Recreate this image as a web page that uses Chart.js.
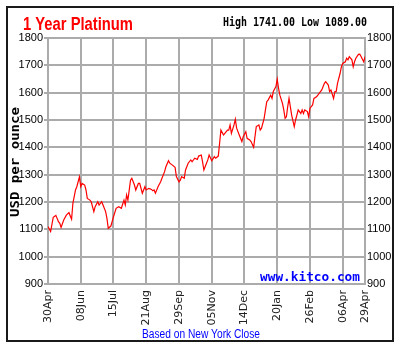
<!DOCTYPE html>
<html>
<head>
<meta charset="utf-8">
<script src="https://cdn.jsdelivr.net/npm/chart.js@4"></script>
<style>
html,body{margin:0;padding:0;background:#fff;}
canvas{display:block;}
</style>
</head>
<body>
<canvas id="c" width="400" height="352"></canvas>
<script>
// trading-day index (0 = 30Apr) and closing price
const tradingDay = [0,2,4,6,8,9,10,12,14,16,18,19,21,22,24,25,26,28,29,30,32,33,35,36,38,39,41,42,44,45,46,48,50,52,54,56,58,59,60,61,63,64,66,67,69,70,72,74,75,77,79,80,81,82,84,86,87,89,90,92,93,95,97,98,100,101,102,104,105,107,109,110,112,114,115,117,118,119,121,122,123,125,127,128,130,131,132,134,135,137,138,139,140,142,143,144,146,148,149,151,152,154,155,157,158,159,161,162,163,165,166,167,168,170,171,172,174,175,176,177,179,180,181,182,183,184,185,186,188,189,190,191,193,194,195,196,198,199,200,202,203,205,206,208,209,211,212,214,215,216,218,219,220,221,223,224,225,227,228,229,230,232,233,234,235,237,238,239,241,242];
const price = [1110,1092,1144,1151,1128,1122,1107,1134,1152,1161,1137,1195,1244,1256,1292,1256,1268,1262,1244,1213,1207,1201,1165,1183,1201,1189,1201,1189,1165,1140,1104,1112,1146,1177,1183,1177,1207,1189,1226,1207,1280,1287,1262,1244,1268,1268,1232,1256,1244,1250,1246,1241,1244,1232,1256,1274,1287,1311,1329,1351,1342,1335,1327,1293,1274,1280,1293,1287,1317,1342,1354,1347,1360,1356,1368,1372,1347,1317,1342,1354,1372,1351,1366,1360,1368,1415,1463,1445,1451,1463,1463,1482,1451,1482,1503,1470,1445,1421,1439,1457,1433,1427,1421,1400,1439,1476,1482,1463,1470,1506,1537,1567,1573,1591,1579,1604,1622,1649,1616,1591,1561,1537,1506,1512,1549,1579,1549,1518,1476,1500,1518,1537,1524,1537,1524,1537,1531,1512,1543,1555,1579,1585,1591,1604,1610,1634,1640,1628,1604,1610,1579,1604,1604,1634,1671,1695,1707,1713,1726,1720,1732,1720,1695,1713,1726,1740,1741,1732,1713,1732];
// x-axis date labels and the trading-day index where each sits
const dateLabels = ['30Apr','08Jun','15Jul','21Aug','29Sep','05Nov','14Dec','20Jan','26Feb','06Apr','29Apr'];
const labelDays = [0,25,50,75,100,125,150,175,200,225,242];
const yMin = 900, yMax = 1800, yStep = 100;
const titleText = '1 Year Platinum';
const rangeText = 'High 1741.00 Low 1089.00';
const yTitle = 'USD per ounce';
const siteText = 'www.kitco.com';
const noteText = 'Based on New York Close';

const points = tradingDay.map((d,i)=>({x:d,y:price[i]}));
const gridColor = '#ababab';
const tickFont = {family:"'Liberation Sans Narrow','Liberation Sans',Arial,sans-serif", size:11};

function fitText(ctx, text, x, y, w, font, color){
  ctx.save();
  ctx.font = font;
  ctx.fillStyle = color;
  ctx.textBaseline = 'alphabetic';
  ctx.textAlign = 'left';
  const m = ctx.measureText(text).width;
  const sx = w / m;
  ctx.translate(x, y);
  ctx.scale(sx, 1);
  ctx.fillText(text, 0, 0);
  ctx.restore();
}

const decor = {
  id:'decor',
  beforeDraw(chart){
    const ctx = chart.ctx;
    ctx.save();
    ctx.fillStyle = '#fff';
    ctx.fillRect(0,0,400,352);
    ctx.strokeStyle = '#1a1a1a';
    ctx.lineWidth = 2;
    ctx.strokeRect(7,7,386,334);
    ctx.restore();
  },
  afterDraw(chart){
    const ctx = chart.ctx;
    fitText(ctx, titleText, 23, 30, 110, "bold 18px 'Liberation Sans',Arial,sans-serif", '#ff0000');
    fitText(ctx, rangeText, 223, 26, 144, "bold 13px 'DejaVu Sans Mono','Liberation Mono',monospace", '#000');
    fitText(ctx, siteText, 260, 281, 100, "bold 13px 'DejaVu Sans Mono','Liberation Mono',monospace", '#0000ff');
    fitText(ctx, noteText, 142, 338, 118, "12px 'Liberation Sans Narrow','Liberation Sans',Arial,sans-serif", '#0000ff');
    ctx.save();
    ctx.translate(19, 217);
    ctx.rotate(-Math.PI/2);
    fitText(ctx, yTitle, 0, 0, 110, "bold 12px 'DejaVu Sans Mono','Liberation Mono',monospace", '#000');
    ctx.restore();
  }
};

const plainTick = v => String(v);

new Chart(document.getElementById('c'), {
  type:'line',
  data:{datasets:[{data:points, borderColor:'#ff0000', borderWidth:1.2, pointRadius:0, tension:0, fill:false}]},
  options:{
    responsive:false, animation:false,
    layout:{padding:{top:38,left:0,right:0,bottom:0}},
    plugins:{legend:{display:false}, tooltip:{enabled:false}, title:{display:false}},
    scales:{
      x:{type:'linear', position:'bottom', min:0, max:242,
        afterBuildTicks(s){ s.ticks = labelDays.map(v=>({value:v})); },
        afterFit(s){ s.height = 68; },
        ticks:{autoSkip:false, maxRotation:90, minRotation:90, padding:6, color:'#222',
          font:{family:"'DejaVu Sans',Verdana,sans-serif", size:11},
          callback(v){ const i = labelDays.indexOf(v); return i>=0 ? dateLabels[i] : ''; }},
        grid:{color:gridColor, lineWidth:2, tickLength:0, drawTicks:false},
        border:{color:gridColor, width:2}
      },
      y:{type:'linear', position:'left', min:yMin, max:yMax,
        afterFit(s){ s.width = 48; },
        ticks:{stepSize:yStep, color:'#000', font:tickFont, padding:1, callback:plainTick},
        grid:{color:gridColor, lineWidth:2, tickLength:4},
        border:{color:gridColor, width:2}
      },
      y2:{type:'linear', position:'right', min:yMin, max:yMax,
        afterFit(s){ s.width = 35; },
        ticks:{stepSize:yStep, color:'#000', font:tickFont, padding:2, callback:plainTick},
        grid:{drawOnChartArea:false, color:gridColor, lineWidth:2, tickLength:0, drawTicks:false},
        border:{color:gridColor, width:2}
      }
    }
  },
  plugins:[decor]
});
</script>
</body>
</html>
